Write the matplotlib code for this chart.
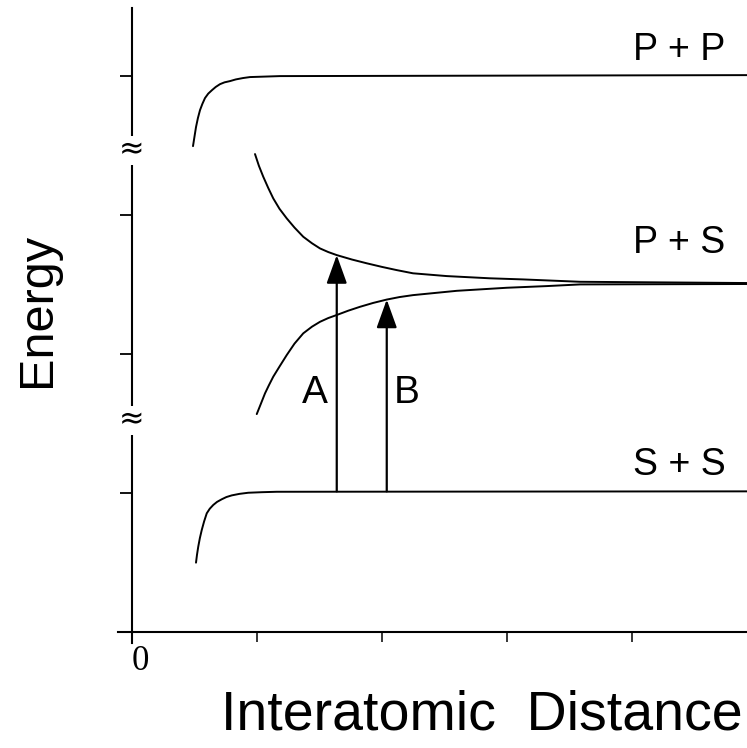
import matplotlib
matplotlib.use("Agg")
import matplotlib.pyplot as plt

# Potential energy curves vs. interatomic distance
pp_x = [0.488, 0.50, 0.512, 0.527, 0.544, 0.563, 0.584, 0.61, 0.64, 0.67, 0.704,
        0.74, 0.784, 0.83, 0.888, 0.944, 1.184, 4.92]
pp_y = [3.496, 3.565, 3.633, 3.697, 3.755, 3.80, 3.842, 3.874, 3.899, 3.922, 3.942,
        3.955, 3.964, 3.976, 3.986, 3.993, 4.0, 4.007]

ps_upper_x = [0.984, 1.015, 1.05, 1.09, 1.13, 1.18, 1.238, 1.30, 1.37, 1.44, 1.504,
              1.57, 1.638, 1.76, 1.878, 2.0, 2.118, 2.248, 2.518, 2.864, 3.128,
              3.584, 4.92]
ps_upper_y = [3.439, 3.355, 3.276, 3.195, 3.12, 3.045, 2.976, 2.91, 2.844, 2.797,
              2.760, 2.734, 2.712, 2.68, 2.653, 2.627, 2.604, 2.581, 2.561, 2.545,
              2.537, 2.520, 2.511]

ps_lower_x = [0.998, 1.03, 1.064, 1.095, 1.13, 1.18, 1.238, 1.30, 1.37, 1.44, 1.504,
              1.57, 1.638, 1.73, 1.824, 1.93, 2.038, 2.14, 2.248, 2.598, 2.998,
              3.318, 3.584, 4.92]
ps_lower_y = [1.568, 1.64, 1.717, 1.775, 1.837, 1.91, 1.993, 2.075, 2.149, 2.197,
              2.232, 2.259, 2.281, 2.312, 2.340, 2.368, 2.392, 2.41, 2.424, 2.455,
              2.477, 2.489, 2.501, 2.504]

ss_x = [0.512, 0.52, 0.530, 0.543, 0.558, 0.577, 0.598, 0.622, 0.65, 0.68, 0.718,
        0.755, 0.798, 0.86, 0.93, 1.04, 1.158, 4.92]
ss_y = [0.499, 0.556, 0.614, 0.676, 0.734, 0.796, 0.854, 0.887, 0.914, 0.936, 0.955,
        0.971, 0.983, 0.994, 1.002, 1.006, 1.009, 1.012]

# Transitions: A goes to the upper P+S curve, B to the lower one
arrow_names = ["A", "B"]
arrow_x = [1.638, 2.038]
arrow_top = [2.712, 2.392]
arrow_base = 1.012

state_names = ["P + P", "P + S", "S + S"]
state_label_y = [4.187, 2.799, 1.201]

sans = ["Liberation Sans", "DejaVu Sans"]

fig = plt.figure(figsize=(7.47, 7.48), dpi=100)
ax = fig.add_axes([132 / 747, 116 / 748, 615 / 747, 624 / 748])
ax.set_xlim(0, 4.92)
ax.set_ylim(0, 4.49)

for xs, ys in [(pp_x, pp_y), (ps_upper_x, ps_upper_y),
               (ps_lower_x, ps_lower_y), (ss_x, ss_y)]:
    ax.plot(xs, ys, color="black", lw=1.4, solid_capstyle="round",
            solid_joinstyle="round")

for name, x, top in zip(arrow_names, arrow_x, arrow_top):
    ax.annotate("", xy=(x, top), xytext=(x, arrow_base),
                arrowprops=dict(arrowstyle="-|>,head_length=1.25,head_width=0.45",
                                mutation_scale=14, lw=1.6, color="black",
                                shrinkA=0, shrinkB=0))

ax.text(1.464, 1.72, "A", fontsize=28, family=sans, ha="center", va="center")
ax.text(2.20, 1.72, "B", fontsize=28, family=sans, ha="center", va="center")

for name, y in zip(state_names, state_label_y):
    ax.text(4.38, y, name, fontsize=27, family=sans, ha="center", va="center")

# axes frame
for side in ["top", "right"]:
    ax.spines[side].set_visible(False)
for side in ["left", "bottom"]:
    ax.spines[side].set_linewidth(1.5)
ax.plot([0, 0], [-0.08, 0], color="black", lw=1.5, clip_on=False)
ax.plot([-0.11, 0], [0, 0], color="black", lw=1.5, clip_on=False)

ax.set_yticks([1, 2, 3, 4])
ax.set_yticklabels([])
ax.tick_params(axis="y", direction="out", length=8.6, width=1.3)
ax.set_xticks([1, 2, 3, 4])
ax.set_xticklabels([])
ax.tick_params(axis="x", direction="out", length=7, width=1.1)

# axis breaks
for yb in [3.468, 1.525]:
    ax.text(0, yb, "\u2248", fontsize=22, family="DejaVu Sans", ha="center",
            va="center", clip_on=False,
            bbox=dict(facecolor="white", edgecolor="none", pad=0))

ax.text(0.07, -0.21, "0", fontsize=25, family=["Liberation Serif", "DejaVu Serif"],
        ha="center", va="center")

fig.text(37 / 747, 1 - 310 / 748, "Energy", rotation=90, fontsize=35,
         family=sans, ha="center", va="center")
fig.text(482 / 747, 1 - 715 / 748, "Interatomic  Distance", fontsize=40,
         family=sans, ha="center", va="center")

fig.savefig("out.png", dpi=100)
